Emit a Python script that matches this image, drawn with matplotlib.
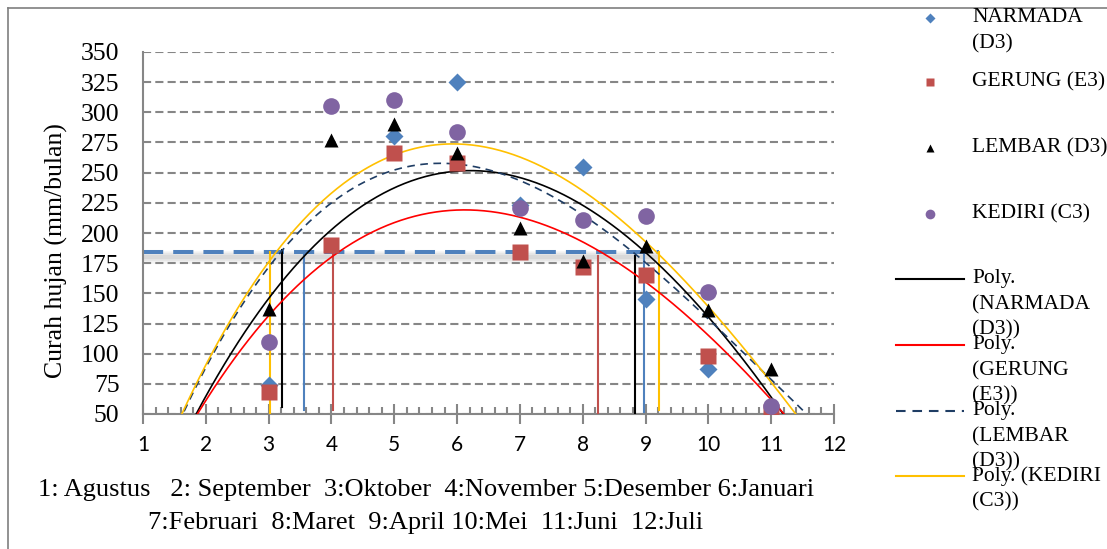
import numpy as np
import matplotlib.pyplot as plt
from matplotlib.lines import Line2D
from matplotlib.ticker import MultipleLocator

W_PX, H_PX = 1107, 549

# monthly rainfall (mm/bulan), months 3..11
MONTHS = [3, 4, 5, 6, 7, 8, 9, 10, 11]
NARMADA = [74, np.nan, 280, 325, 223, 255, 145, 87, np.nan]
GERUNG = [68, 190, 266, 258, 184, 172, 165, 98, 52]
LEMBAR = [137, 277, 290, 266, 204, 177, 189, 136, 87]
KEDIRI = [110, 305, 310, 284, 221, 211, 214, 151, 57]

# polynomial trendline coefficients (x^3, x^2, x, 1)
POLY_NARMADA = [0.2632, -14.3458, 147.7242, -175.4653]
POLY_GERUNG = [0.3006, -13.5891, 132.5503, -152.0]
POLY_LEMBAR = [0.6266, -20.5577, 174.0146, -182.2621]
POLY_KEDIRI = [0.4614, -18.2430, 167.7397, -175.5676]

THRESHOLD = 184
THRESHOLD_END = 9.22

VLINE_X = [3.02, 3.21, 3.56, 4.03, 8.24, 8.84, 8.97, 9.21]
VLINE_TOP = [184, 186, 184, 184, 181, 181, 184, 184]
VLINE_BOTTOM = [50, 56, 53, 53, 50, 51, 52, 53]

MONTH_LINE1 = "1: Agustus   2: September  3:Oktober  4:November 5:Desember 6:Januari"
MONTH_LINE2 = "7:Februari  8:Maret  9:April 10:Mei  11:Juni  12:Juli"

C_BLUE = "#4F81BD"
C_RED = "#C0504D"
C_PURPLE = "#8064A2"
C_GRID = "#868686"
C_YEL = "#FFC000"
C_NAVY = "#1F3D64"

SERIF = "Liberation Serif"


def fx(px):
    return px / W_PX


def fy(py):
    return 1 - py / H_PX


fig = plt.figure(figsize=(W_PX / 100, H_PX / 100), dpi=100)
ax = fig.add_axes([fx(143), fy(414), fx(834) - fx(143), fy(52) - fy(414)])

ax.set_xlim(1, 12)
ax.set_ylim(50, 350)

# trend curves
xs = np.linspace(1, 12, 400)
trend_specs = [
    (POLY_NARMADA, "black", "-"),
    (POLY_GERUNG, "#FF0000", "-"),
    (POLY_LEMBAR, C_NAVY, (0, (4.6, 3.3))),
    (POLY_KEDIRI, C_YEL, "-"),
]
for coef, col, ls in trend_specs:
    ax.plot(xs, np.polyval(coef, xs), color=col, lw=1.2, ls=ls, zorder=3)

# threshold line with a soft shadow under it
for lw, a in [(9, 0.10), (6, 0.14), (3, 0.18)]:
    ax.plot([1, THRESHOLD_END], [THRESHOLD - 3.5, THRESHOLD - 3.5], color="#9a9a9a",
            lw=lw, alpha=a, solid_capstyle="butt", zorder=2)
ax.plot([1, THRESHOLD_END], [THRESHOLD, THRESHOLD], color=C_BLUE, lw=2.9,
        ls=(0, (5, 2.5)), zorder=2.5)

vcols = [C_YEL, "black", C_BLUE, C_RED, C_RED, "black", C_BLUE, C_YEL]
for x, yb, yt, col in zip(VLINE_X, VLINE_BOTTOM, VLINE_TOP, vcols):
    ax.plot([x, x], [yb, yt], color=col, lw=1.5, zorder=2.6)

# scatter markers
ax.plot(MONTHS, NARMADA, ls="none", marker="D", ms=8.8, color=C_BLUE, mec="none", zorder=5)
ax.plot(MONTHS, GERUNG, ls="none", marker="s", ms=11, color=C_RED, mec="none", zorder=5)
ax.plot(MONTHS, LEMBAR, ls="none", marker="^", ms=10, color="black", mec="none", zorder=5)
ax.plot(MONTHS, KEDIRI, ls="none", marker="o", ms=12, color=C_PURPLE, mec="none", zorder=5)

ax.set_xticks(range(1, 13))
ax.xaxis.set_minor_locator(MultipleLocator(0.2))
ax.set_yticks(range(50, 351, 25))
ax.yaxis.grid(True, color=C_GRID, lw=1.5, ls=(0, (3.9, 2)))
ax.set_axisbelow(True)
for s in ["top", "right"]:
    ax.spines[s].set_visible(False)
for s in ["left", "bottom"]:
    ax.spines[s].set_color(C_GRID)
    ax.spines[s].set_linewidth(1.5)
ax.tick_params(axis="x", which="major", direction="inout", length=14, width=1.5,
               color=C_GRID, pad=8, labelsize=15)
ax.tick_params(axis="x", which="minor", direction="in", length=5, width=1.5, color=C_GRID)
ax.tick_params(axis="y", length=0, pad=17, labelsize=18.5)
for lab in ax.get_xticklabels():
    lab.set_fontfamily("Lato")
for lab in ax.get_yticklabels():
    lab.set_fontfamily(SERIF)

fig.text(fx(56), fy(251), "Curah hujan (mm/bulan)", rotation=90, ha="center",
         va="center", fontsize=18.5, family=SERIF)

fig.text(fx(426), fy(490), MONTH_LINE1, ha="center", va="center", fontsize=19, family=SERIF)
fig.text(fx(426), fy(523), MONTH_LINE2, ha="center", va="center", fontsize=19, family=SERIF)

# outer frame
fig.add_artist(Line2D([fx(8), fx(8)], [fy(8), 0], color="#7f7f7f", lw=1.2))
fig.add_artist(Line2D([fx(8), 1], [fy(8), fy(8)], color="#7f7f7f", lw=1.2))

# legend drawn by hand (entries overlap slightly, as in the original)
leg_marker_x = 930
leg_text_x = 972
pitch = 25.5
marker_entries = [
    ("D", 5, C_BLUE, 18, ["NARMADA", "(D3)"]),
    ("s", 5.8, C_RED, 82, ["GERUNG (E3)"]),
    ("^", 5.5, "black", 148, ["LEMBAR (D3)"]),
    ("o", 7, C_PURPLE, 214, ["KEDIRI (C3)"]),
]
for mk, ms, col, yc, lines in marker_entries:
    fig.add_artist(Line2D([fx(leg_marker_x)], [fy(yc)], marker=mk, ms=ms, color=col,
                          mec="none", ls="none"))
    for i, t in enumerate(lines):
        fig.text(fx(leg_text_x), fy(yc + i * pitch), t, va="center", ha="left",
                 fontsize=15.5, family=SERIF)

line_entries = [
    ("black", "-", 279, ["Poly.", "(NARMADA", "(D3))"]),
    ("#FF0000", "-", 345, ["Poly.", "(GERUNG", "(E3))"]),
    (C_NAVY, (0, (4.6, 3.3)), 411, ["Poly.", "(LEMBAR", "(D3))"]),
    (C_YEL, "-", 476, ["Poly. (KEDIRI", "(C3))"]),
]
for col, ls, yc, lines in line_entries:
    fig.add_artist(Line2D([fx(896), fx(964)], [fy(yc), fy(yc)], color=col, ls=ls, lw=1.5))
    for i, t in enumerate(lines):
        fig.text(fx(leg_text_x), fy(yc + i * pitch), t, va="center", ha="left",
                 fontsize=15.5, family=SERIF)

fig.savefig("out.png", dpi=100)
